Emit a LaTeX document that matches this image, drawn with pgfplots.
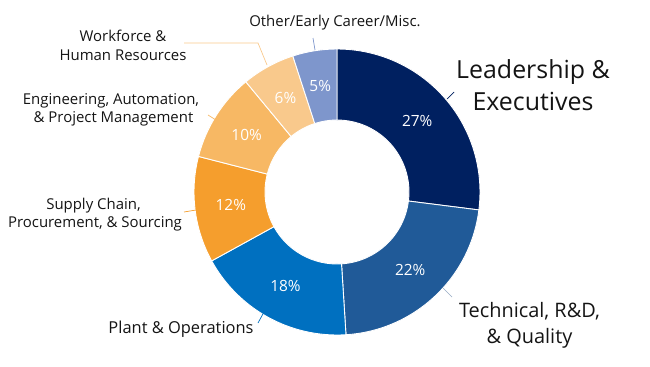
\documentclass[border=0pt]{standalone}
\usepackage{pgfplots}
\pgfplotsset{compat=1.18}
\usepackage{fontspec}
\setmainfont{Open Sans}
\definecolor{cLead}{RGB}{0,32,96}
\definecolor{cTech}{RGB}{32,90,152}
\definecolor{cPlant}{RGB}{0,112,192}
\definecolor{cSupply}{RGB}{245,158,45}
\definecolor{cEng}{RGB}{247,184,100}
\definecolor{cWork}{RGB}{249,201,140}
\definecolor{cOther}{RGB}{126,150,204}
\definecolor{cText}{RGB}{20,20,20}
\definecolor{cTechLine}{RGB}{150,170,195}
% slice: #1 cumulative start (%), #2 value (%), #3 colour
\newcommand\slice[3]{%
  \pgfmathsetmacro\aA{90-3.6*#1}%
  \pgfmathsetmacro\aB{90-3.6*(#1+#2)}%
  \pgfmathsetmacro\aM{90-3.6*(#1+#2/2)}%
  \edef\tmp{\noexpand\fill[#3, draw=white, line width=0.9pt, shift={(axis cs:337,174)}]
    (\aA:143bp) arc[start angle=\aA, end angle=\aB, radius=143bp]
    -- (\aB:72bp) arc[start angle=\aB, end angle=\aA, radius=72bp] -- cycle;
    \noexpand\node[text=white, font=\noexpand\fontsize{15.5}{18}\noexpand\selectfont, shift={(axis cs:337,174)}] at (\aM:107bp) {#2\noexpand\%};}%
  \tmp}
\begin{document}
\begin{tikzpicture}
\begin{axis}[
  x=1bp, y=1bp, xmin=0, xmax=650, ymin=0, ymax=366,
  scale only axis, hide axis, clip=false]
\path (axis cs:0,0) rectangle (axis cs:650,366);
\slice{0}{27}{cLead}
\slice{27}{22}{cTech}
\slice{49}{18}{cPlant}
\slice{67}{12}{cSupply}
\slice{79}{10}{cEng}
\slice{89}{6}{cWork}
\slice{95}{5}{cOther}
% leader lines
\draw[cOther, line width=0.7pt] (axis cs:313,328) -- (axis cs:315,316);
\draw[cWork, line width=0.7pt] (axis cs:184,323) -- (axis cs:258,323) -- (axis cs:267,301);
\draw[cEng, line width=0.7pt] (axis cs:208,251) -- (axis cs:216,246);
\draw[cSupply, line width=0.7pt] (axis cs:184,154) -- (axis cs:196,156);
\draw[cPlant, line width=0.7pt] (axis cs:258,43) -- (axis cs:264,54);
\draw[cLead, line width=0.7pt] (axis cs:447,267) -- (axis cs:454,274);
\draw[cTechLine, line width=0.7pt] (axis cs:443,78) -- (axis cs:452,69);
% labels
\begin{scope}[every node/.style={anchor=base, text=cText, inner sep=0pt}]
\node[font=\fontsize{15}{18}\selectfont] at (axis cs:335,339.3) {Other/Early Career/Misc.};
\node[font=\fontsize{15}{18}\selectfont] at (axis cs:123,324.3) {Workforce \&};
\node[font=\fontsize{15}{18}\selectfont] at (axis cs:123,305.3) {Human Resources};
\node[font=\fontsize{15}{18}\selectfont] at (axis cs:111,262) {Engineering, Automation,};
\node[font=\fontsize{15}{18}\selectfont] at (axis cs:113.5,244) {\& Project Management};
\node[font=\fontsize{15}{18}\selectfont] at (axis cs:93.5,157) {Supply Chain,};
\node[font=\fontsize{15}{18}\selectfont] at (axis cs:95,138.3) {Procurement, \& Sourcing};
\node[font=\fontsize{16.5}{20}\selectfont] at (axis cs:181,33) {Plant \& Operations};
\node[font=\fontsize{25}{30}\selectfont] at (axis cs:533,288) {Leadership \&};
\node[font=\fontsize{25}{30}\selectfont] at (axis cs:533,256) {Executives};
\node[font=\fontsize{20}{24}\selectfont] at (axis cs:529.5,48.3) {Technical, R\&D,};
\node[font=\fontsize{20}{24}\selectfont] at (axis cs:529.5,23) {\& Quality};
\end{scope}
\end{axis}
\end{tikzpicture}
\end{document}
